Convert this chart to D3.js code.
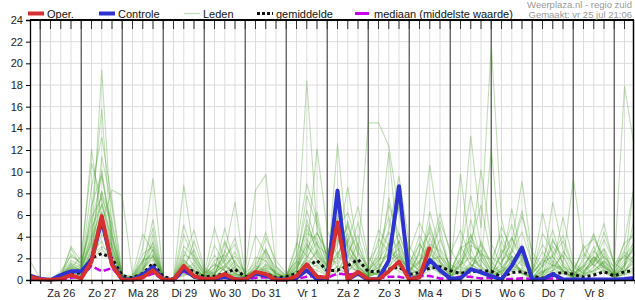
<!DOCTYPE html>
<html>
<head>
<meta charset="utf-8">
<script src="https://cdn.jsdelivr.net/npm/d3@7"></script>
<style>
  body { margin: 0; background: #fff; }
  svg { display: block; font-family: "Liberation Sans", Arial, sans-serif; }
</style>
</head>
<body>
<div id="chart"></div>
<script>
// Neerslag pluim - regio zuid

// 6-uurlijkse stappen vanaf vr 25 jul 18:00
const start = new Date(2025, 6, 25, 18);
const times = d3.range(60).map(i => d3.timeHour.offset(start, i * 6));

const dayLabels = ['Za 26', 'Zo 27', 'Ma 28', 'Di 29', 'Wo 30', 'Do 31', 'Vr 1',
    'Za 2', 'Zo 3', 'Ma 4', 'Di 5', 'Wo 6', 'Do 7', 'Vr 8'];
const yTicks = [0, 2, 4, 6, 8, 10, 12, 14, 16, 18, 20, 22, 24];

const oper = [0.3, 0.05, 0, 0.1, 0.45, 0.15, 1.7, 5.9, 1.4, 0, 0, 0.25, 0.9, 0.05, 0, 1.3, 0.35,
    0.1, 0.15, 0.55, 0.05, 0.05, 0.75, 0.55, 0, 0, 0.35, 1.45, 0.3, 0.2, 5.3, 0.05, 0.75,
    0.05, 0.05, 0.8, 1.7, 0.05, 0.25, 3.05];

const controle = [0.4, 0.1, 0, 0.45, 0.8, 0.8, 1.85, 5.5, 1.5, 0.05, 0.05, 0.5, 1.2, 0.05, 0, 1.0, 0.3,
    0.1, 0.1, 0.3, 0.05, 0.05, 0.6, 0.4, 0.05, 0.05, 0.2, 0.9, 0.05, 0.1, 8.25, 0.05, 0.6,
    0, 0.1, 1.8, 8.65, 0.05, 0.3, 1.85, 0.9, 0.15, 0.15, 1.0, 0.7, 0.35, 0.05, 1.3, 3.0,
    0.05, 0.05, 0.55, 0.05, 0.05, 0.05, 0.05, 0.05, 0.05, 0.1, 0.2];

const gemiddelde = [0.35, 0.1, 0.05, 0.2, 0.5, 0.7, 2.0, 2.45, 2.0, 0.4, 0.2, 0.6, 1.55, 0.3, 0.1, 1.1, 0.8,
    0.3, 0.35, 0.6, 1.0, 0.3, 0.5, 0.6, 0.2, 0.3, 0.6, 1.2, 1.8, 0.85, 0.9, 1.3, 1.9,
    0.77, 0.8, 1.0, 1.2, 0.5, 0.7, 1.1, 1.23, 0.86, 0.6, 0.77, 0.83, 0.83, 0.25, 0.68, 0.77,
    0.37, 0.15, 0.55, 0.68, 0.52, 0.25, 0.45, 0.77, 0.37, 0.77, 0.86];

const mediaan = [0.1, 0, 0, 0.05, 0.2, 0.3, 1.3, 0.8, 1.1, 0.1, 0, 0.2, 0.6, 0.05, 0, 0.8, 0.3,
    0.05, 0.1, 0.2, 0.15, 0.05, 0.2, 0.25, 0.05, 0.05, 0.1, 0.3, 0.4, 0.2, 0.6, 0.5, 0.6,
    0.1, 0.15, 0.3, 0.3, 0.1, 0.37, 0.37, 0.15, 0.15, 0.3, 0.3, 0.15, 0.2, 0.1, 0.1, 0.15,
    0.1, 0.15, 0.15, 0.1, 0.05, 0.05, 0.05, 0.05, 0.05, 0.05, 0.05];

const leden = [
    [0.3, 0,0,0.2,0.8, 1.2,3.5,19.4,4.2, 0.1,0,0.5,1.2, 0,0,0.8,0.3, 0.1,0.2,0.6,0.4, 0,0.3,1.1,0.2, 0,0.4,2.1,3.5, 1.2,0.8,2.6,1.4, 0.3,0.6,1.8,2.4, 0.5,0.9,3.1,1.2, 0.2,0.4,1.5,0.8, 0.3,1.1,2.2,0.6, 0.1,0.3,1.4,0.9, 0.2,0.5,1.6,2.8, 0.4,1.2,3.3],
    [0.1, 0,0,0.4,1.5, 0.8,6.2,15.8,2.5, 0,0.1,0.9,2.2, 0.1,0,1.6,0.7, 0.2,0.9,4.8,1.3, 0.1,0.5,0.3,0, 0.2,1.3,3.2,1.8, 0.5,2.4,4.3,1.1, 0.2,0.3,0.9,3.6, 0.8,1.7,2.9,0.6, 0.1,1.9,4.2,1.3, 0.6,2.3,5.1,1.8, 0.4,0.2,0.8,2.6, 1.4,0.6,2.2,1.1, 0.3,0.7,1.9],
    [1.8, 0.1,0,0.3,2.4, 1.5,12.1,5.3,8.3, 7.8,0.4,1.8,3.4, 0.2,0.1,2.3,1.9, 0.4,0.2,1.2,0.7, 0.1,2.1,1.8,0.4, 0.1,0.7,5.6,2.4, 0.6,1.2,3.5,6.8, 2.1,0.9,3.3,1.2, 0.4,2.6,10.6,4.1, 0.8,1.5,3.2,2.6, 0.9,0.5,2.8,6.4, 1.2,0.4,3.6,2.1, 0.5,1.3,0.6,1.7, 0.9,2.8,4.6],
    [0.5, 0,0,0.6,1.1, 2.2,10.8,7.4,3.1, 0.3,0,0.4,0.9, 0,0,0.6,0.4, 0.1,0.6,2.5,7.2, 0.5,0.2,0.9,0.3, 0.1,2.4,18.4,4.6, 1.3,3.8,2.2,0.9, 0.4,1.6,4.4,2.7, 0.7,0.3,1.4,3.8, 1.1,0.6,1.2,2.4, 0.3,0.9,1.6,0.8, 0.2,1.4,3.1,1.5, 9.4,2.6,1.4,0.7, 0.2,0.5,1.1],
    [0.2, 0,0,0.1,0.6, 0.9,4.4,8.1,5.5, 0.2,0.3,2.9,9.4, 0.4,0,8.8,2.4, 0.6,4.8,1.6,0.5, 0.2,1.4,2.8,0.9, 0.3,0.8,1.9,4.3, 2.7,1.1,0.6,2.3, 14.5,14.5,12.4,6.2, 1.9,0.8,2.4,1.6, 0.4,1.2,0.9,3.3, 1.7,0.6,1.3,0.9, 0.1,0.6,2.2,0.8, 0.2,0.9,1.5,3.7, 1.6,0.8,2.4],
    [0.4, 0,0,0.2,0.4, 0.6,2.8,6.3,1.9, 0.1,0,0.7,1.5, 0,0,1.2,0.6, 0.3,1.1,3.6,1.4, 0.9,8.3,9.7,1.2, 0.4,1.8,4.7,2.9, 0.8,6.1,3.3,1.7, 0.6,2.7,5.8,1.4, 0.3,0.6,2.1,4.9, 0.7,2.1,13.3,4.8, 21.8,5.6,1.9,0.6, 0.2,0.8,1.2,2.3, 0.5,0.3,0.9,1.8, 0.4,2.6,1.8],
    [0.3, 0,0,0.4,1.3, 0.4,2.1,11.4,6.8, 0.2,0.1,1.3,2.8, 0.1,0,0.9,1.4, 0.2,0.5,1.8,3.9, 0.3,0.6,1.5,0.7, 0.2,1.1,2.6,12.1, 4.6,2.2,1.4,0.8, 0.4,1.9,2.3,3.6, 1.2,0.4,1.8,2.2, 0.6,3.1,1.4,0.9, 0.4,1.7,3.4,9.1, 2.2,0.7,1.1,0.6, 0.3,1.5,2.4,5.2, 1.3,17.9,12.0],
    [0.6, 0.1,0,0.2,3.1, 1.7,5.2,9.6,4.4, 0.4,0,0.8,3.6, 0.2,0,4.2,1.8, 0.5,2.3,0.9,0.3, 0.1,0.4,0.6,0.2, 0.1,0.9,3.8,2.2, 1.4,3.1,8.6,2.7, 0.9,0.4,1.6,7.4, 2.3,1.1,3.9,1.6, 0.5,0.8,2.6,10.2, 3.4,1.2,0.8,1.9, 0.6,1.8,4.6,1.3, 0.4,0.7,2.1,0.8, 0.2,1.3,9.4],
    [0.2, 0,0,0.3,0.9, 1.1,3.3,7.1,2.6, 0,0.2,1.6,4.8, 0.1,0,1.9,0.8, 0.1,0.4,2.7,1.1, 0.2,0.8,2.2,0.4, 0.3,2.2,6.4,3.3, 1.1,4.5,2.1,5.3, 1.6,3.2,11.8,2.4, 0.8,2.4,1.3,0.7, 0.3,1.4,4.1,2.2, 0.8,3.6,1.2,2.4, 0.3,0.9,7.2,2.8, 0.8,0.4,1.2,2.5, 0.6,0.9,1.6],
    [0.1, 0,0,0.1,0.5, 0.3,1.6,4.2,3.3, 0.1,0,0.3,1.1, 0,0,0.5,0.4, 0.4,1.5,0.8,0.2, 0,0.2,1.4,0.6, 0.2,0.6,1.5,2.6, 0.7,1.9,5.2,1.3, 0.3,0.8,3.1,1.7, 0.4,1.2,6.3,2.9, 1.4,0.9,5.6,1.8, 0.6,1.1,2.5,4.4, 1.5,0.6,0.9,1.4, 0.3,2.1,4.3,1.2, 0.5,3.6,8.9],
    [0.4, 0,0,0.5,1.8, 1.3,8.6,13.2,7.3, 0.6,0.1,1.1,2.3, 0.1,0,1.4,1.1, 0.3,0.7,1.3,0.5, 0.2,1.3,0.9,0.3, 0.1,1.6,7.8,5.1, 2.2,1.5,3.8,0.8, 0.5,1.2,2.6,4.3, 1.6,0.9,2.7,6.1, 2.4,4.6,1.9,1.1, 0.5,2.4,3.9,1.6, 0.9,3.3,1.6,0.7, 0.4,1.1,3.1,0.9, 0.3,0.8,2.1],
    [0.3, 0,0,0.2,1.4, 0.8,3.9,5.6,2.1, 0.3,0.5,4.2,2.6, 0.2,0.1,3.1,2.2, 0.8,0.3,1.1,2.6, 0.5,0.9,1.8,0.5, 0.3,3.4,2.2,1.6, 0.9,2.6,1.4,3.4, 0.7,0.5,1.9,2.9, 0.6,2.8,4.4,2.1, 0.9,1.8,0.7,3.6, 1.3,0.6,1.8,2.9, 0.8,2.6,1.3,5.8, 1.7,0.8,1.9,1.2, 0.5,1.4,3.7],
    [0.2, 0,0,0.1,0.3, 0.5,2.4,3.6,1.2, 0,0,0.6,0.8, 0,0,0.4,0.9, 0.2,0.3,0.6,1.8, 0.3,0.5,1.1,0.8, 0.1,0.5,1.2,0.9, 0.4,0.8,1.7,0.6, 0.2,1.5,0.8,1.3, 0.5,0.3,0.9,1.4, 0.4,0.6,1.1,0.5, 0.2,0.8,1.4,0.7, 0.2,0.4,0.9,0.6, 0.1,0.5,0.8,1.3, 0.2,0.6,0.9],
    [0.5, 0,0,0.8,2.2, 1.6,4.8,6.9,3.9, 0.5,0.2,2.4,3.1, 0.3,0,2.7,1.3, 0.2,1.8,2.3,0.9, 0.4,4.1,2.4,0.6, 0.2,1.2,4.3,3.8, 1.8,3.4,4.9,2.5, 1.2,4.6,3.2,2.1, 0.9,1.8,3.3,2.7, 0.8,2.9,3.6,2.4, 1.9,4.2,1.6,3.1, 0.7,1.6,2.2,3.6, 1.1,2.4,1.3,2.2, 0.7,1.9,2.8],
    [0.1, 0,0,0.2,0.7, 0.6,1.9,2.9,1.6, 0.2,0,0.2,0.6, 0,0,0.7,0.5, 0.1,0.2,0.4,0.6, 0.2,0.1,0.5,0.4, 0.1,0.3,0.9,1.4, 0.6,0.4,1.1,0.9, 0.3,0.7,1.4,0.8, 0.3,0.5,1.2,0.6, 0.2,0.4,0.8,0.9, 0.3,0.5,0.9,1.1, 0.2,0.3,0.6,0.8, 0.2,0.4,0.6,0.9, 0.3,0.5,0.7],
    [0.3, 0,0,0.3,1.6, 1.1,6.9,9.8,3.6, 0.2,0.1,1.4,5.6, 0.2,0.1,5.1,2.1, 0.4,1.1,2.1,3.3, 0.4,0.7,2.6,1.1, 0.3,0.9,2.9,4.4, 2.3,5.6,3.1,1.8, 0.8,2.1,4.6,9.6, 3.2,1.4,4.8,2.3, 1.1,9.8,2.2,1.3, 12.2,1.8,2.6,5.9, 2.6,1.2,2.4,4.1, 1.2,0.6,1.8,2.9, 1.1,2.3,1.5],
    [0.2, 0,0,0.1,0.8, 0.4,3.1,4.9,1.8, 0.1,0,1.1,1.9, 0,0,1.8,0.9, 0.3,0.8,1.9,0.8, 0.1,0.6,1.3,0.4, 0.2,0.8,3.4,1.9, 0.8,12.6,2.9,1.1, 0.6,3.8,2.6,1.9, 1.3,4.1,2.1,1.2, 0.6,1.3,2.9,0.8, 0.4,2.8,1.7,0.9, 0.3,1.2,3.8,1.6, 0.6,1.3,2.7,1.4, 0.4,1.1,6.1],
    [0.4, 0,0,0.4,1.2, 0.9,2.2,3.1,2.4, 0.3,0.2,1.9,2.1, 0.1,0,1.2,0.8, 0.3,3.2,1.4,0.6, 0.2,0.9,3.9,1.8, 0.6,1.7,1.1,2.8, 1.1,0.7,2.4,1.2, 0.4,0.9,1.3,2.2, 0.6,0.9,1.8,1.1, 0.3,0.8,1.6,2.8, 0.8,1.3,6.6,2.1, 0.5,1.9,1.3,0.8, 0.3,1.2,2.1,1.4, 0.5,1.4,2.3],
    [0.2, 0,0,0.3,0.6, 0.7,2.6,8.2,3.1, 0.2,0,0.9,4.2, 0.1,0,0.8,3.6, 0.9,0.5,0.7,1.2, 0.2,0.4,0.7,0.3, 0.1,0.6,1.8,1.2, 0.4,1.3,0.9,1.6, 0.5,0.6,7.6,3.2, 0.9,3.4,1.4,0.9, 0.4,0.7,1.3,1.9, 0.5,0.8,1.1,0.6, 0.2,0.5,1.8,0.9, 0.2,0.6,0.9,1.6, 0.4,0.8,1.2],
    [0.3, 0,0,0.2,1.0, 1.4,5.8,7.6,5.1, 0.4,0.1,0.5,1.3, 0,0,0.9,1.6, 0.2,0.4,3.4,1.6, 0.3,1.1,0.8,0.2, 0.1,0.4,2.3,6.3, 1.6,2.1,5.4,2.3, 0.6,1.1,2.4,1.3, 0.5,1.6,5.2,1.8, 0.6,1.4,2.1,1.2, 0.4,0.9,2.2,1.3, 0.3,0.7,1.4,1.1, 0.4,1.8,4.1,1.9, 0.6,1.6,3.2],
    [0.2, 0,0,0.5,2.9, 1.2,4.1,6.2,2.8, 0.3,0.1,1.7,2.4, 0.2,0,2.1,4.6, 1.1,0.6,1.4,2.2, 0.6,1.6,4.4,1.3, 0.4,1.4,5.1,3.2, 2.4,4.8,6.2,3.1, 1.1,2.2,6.9,4.2, 1.6,3.3,2.1,5.4, 2.8,1.3,3.6,6.9, 2.1,1.4,3.9,2.2, 0.6,4.3,2.6,1.2, 0.8,2.9,3.8,2.1, 1.2,3.4,4.2],
    [0.4, 0,0,0.3,1.1, 0.7,3.6,10.2,4.1, 0.2,0,0.8,2.9, 0.1,0,1.4,2.8, 0.6,1.4,0.9,0.4, 0.2,0.7,2.9,0.6, 0.3,3.1,8.9,5.6, 1.9,7.4,2.6,4.1, 0.9,1.8,3.4,6.8, 2.6,5.3,3.1,1.7, 0.8,2.6,7.8,3.2, 1.2,4.9,2.8,1.4, 0.9,6.2,2.1,0.9, 0.5,3.2,1.6,4.4, 1.6,2.1,3.6]
];

const width = 635, height = 300;
const margin = { top: 20, right: 1, bottom: 20, left: 30 };
const plotRight = width - margin.right;
const plotBottom = height - margin.bottom;

const svg = d3.select('#chart').append('svg')
    .attr('width', width)
    .attr('height', height);

const x = d3.scaleTime()
    .domain([times[0], times[times.length - 1]])
    .range([margin.left, margin.left + 59 * 10.25]);

const y = d3.scaleLinear()
    .domain([0, 24])
    .range([plotBottom, margin.top]);

svg.append('defs').append('clipPath').attr('id', 'clip')
    .append('rect')
    .attr('x', margin.left).attr('y', margin.top)
    .attr('width', plotRight - margin.left)
    .attr('height', plotBottom - margin.top + 1.5);

// Grid
const grid = svg.append('g');
grid.selectAll('.hgrid')
    .data(yTicks.filter(d => d > 0 && d < 24))
    .enter().append('line')
    .attr('x1', margin.left).attr('x2', plotRight)
    .attr('y1', d => y(d)).attr('y2', d => y(d))
    .attr('stroke', '#dcdcdc').attr('stroke-width', 1);

const isMidnight = t => t.getHours() === 0;
grid.selectAll('.vgrid')
    .data(times.filter(t => !isMidnight(t) && x(t) > margin.left + 1 && x(t) < plotRight))
    .enter().append('line')
    .attr('x1', d => x(d)).attr('x2', d => x(d))
    .attr('y1', margin.top).attr('y2', plotBottom)
    .attr('stroke', '#dcdcdc').attr('stroke-width', 1);

grid.selectAll('.dayline')
    .data(times.filter(isMidnight))
    .enter().append('line')
    .attr('x1', d => x(d)).attr('x2', d => x(d))
    .attr('y1', margin.top).attr('y2', plotBottom)
    .attr('stroke', '#5a5a5a').attr('stroke-width', 1.3);

// Top ticks
grid.selectAll('.toptick')
    .data(times.filter(t => x(t) > margin.left + 1 && x(t) < plotRight))
    .enter().append('line')
    .attr('x1', d => x(d)).attr('x2', d => x(d))
    .attr('y1', margin.top).attr('y2', margin.top + 9)
    .attr('stroke', '#333').attr('stroke-width', 1);

// Series
const plot = svg.append('g').attr('clip-path', 'url(#clip)');
const line = d3.line()
    .x((d, i) => x(times[i]))
    .y(d => y(d));

plot.selectAll('.lid')
    .data(leden)
    .enter().append('path')
    .attr('d', line)
    .attr('fill', 'none')
    .attr('stroke', '#3f9a1e')
    .attr('stroke-opacity', 0.32)
    .attr('stroke-width', 1.1);

plot.append('path')
    .attr('d', line(mediaan))
    .attr('fill', 'none')
    .attr('stroke', '#cc00ee')
    .attr('stroke-width', 2.5)
    .attr('stroke-dasharray', '7,3');

plot.append('path')
    .attr('d', line(gemiddelde))
    .attr('fill', 'none')
    .attr('stroke', '#111')
    .attr('stroke-width', 3)
    .attr('stroke-dasharray', '3,3');

plot.append('path')
    .attr('d', line(controle))
    .attr('fill', 'none')
    .attr('stroke', '#2e32d0')
    .attr('stroke-width', 4)
    .attr('stroke-linejoin', 'round');

plot.append('path')
    .attr('d', line(oper))
    .attr('fill', 'none')
    .attr('stroke', '#d63030')
    .attr('stroke-width', 4)
    .attr('stroke-linejoin', 'round');

// Frame
svg.append('line')
    .attr('x1', margin.left).attr('x2', plotRight)
    .attr('y1', margin.top).attr('y2', margin.top)
    .attr('stroke', '#000').attr('stroke-width', 2);
svg.append('line')
    .attr('x1', plotRight - 0.5).attr('x2', plotRight - 0.5)
    .attr('y1', margin.top).attr('y2', plotBottom)
    .attr('stroke', '#000').attr('stroke-width', 1.5);

// Y axis
const yAxis = svg.append('g')
    .attr('transform', `translate(${margin.left},0)`)
    .call(d3.axisLeft(y).tickValues(yTicks).tickSize(4).tickPadding(3));
yAxis.select('.domain').attr('stroke', '#000').attr('stroke-width', 1.3);
yAxis.selectAll('text')
    .attr('font-size', '11px')
    .attr('font-family', '"Liberation Sans", Arial, sans-serif')
    .attr('fill', '#222');

// X axis: 6h ticks
const xAxis = svg.append('g')
    .attr('transform', `translate(0,${plotBottom})`)
    .call(d3.axisBottom(x).tickValues(times.slice(0, 59)).tickSize(4).tickFormat(''));
xAxis.select('.domain').attr('stroke', '#000').attr('stroke-width', 1.3);

// Day labels at noon
const noons = dayLabels.map((d, i) => d3.timeHour.offset(times[1], i * 24 + 12));
const xLabels = svg.append('g')
    .attr('transform', `translate(0,${plotBottom})`)
    .call(d3.axisBottom(x).tickValues(noons).tickSize(0).tickPadding(9)
        .tickFormat((d, i) => dayLabels[i]));
xLabels.select('.domain').remove();
xLabels.selectAll('text')
    .attr('font-size', '11px')
    .attr('font-family', '"Liberation Sans", Arial, sans-serif')
    .attr('fill', '#222');

// Legend
const legendItems = [
    { label: 'Oper.', x: 28, color: '#d63030', width: 4, dash: null },
    { label: 'Controle', x: 99, color: '#2e32d0', width: 4, dash: null },
    { label: 'Leden', x: 184, color: '#b9ddb0', width: 1.2, dash: null },
    { label: 'gemiddelde', x: 257, color: '#111', width: 3, dash: '3,2' },
    { label: 'mediaan (middelste waarde)', x: 355, color: '#cc00ee', width: 3, dash: '14,3,1,3' }
];
const legend = svg.append('g');
legendItems.forEach(d => {
    legend.append('line')
        .attr('x1', d.x).attr('x2', d.x + 16)
        .attr('y1', 13.5).attr('y2', 13.5)
        .attr('stroke', d.color)
        .attr('stroke-width', d.width)
        .attr('stroke-dasharray', d.dash);
    legend.append('text')
        .attr('x', d.x + 19)
        .attr('y', 17.5)
        .attr('font-size', '11px')
        .attr('fill', '#111')
        .text(d.label);
});

svg.append('text')
    .attr('x', 632).attr('y', 8)
    .attr('text-anchor', 'end')
    .attr('font-size', '9.5px')
    .attr('fill', '#999')
    .text('Weerplaza.nl - regio zuid');
svg.append('text')
    .attr('x', 632).attr('y', 18)
    .attr('text-anchor', 'end')
    .attr('font-size', '9.5px')
    .attr('fill', '#999')
    .text('Gemaakt: vr 25 jul 21:06');
</script>
</body>
</html>
